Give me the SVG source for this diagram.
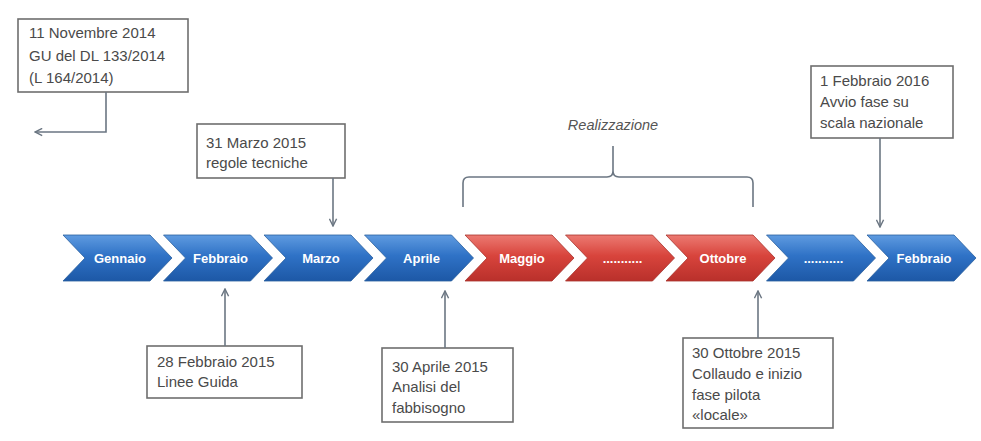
<svg xmlns="http://www.w3.org/2000/svg" width="981" height="441" viewBox="0 0 981 441">
<defs>
<linearGradient id="gb" x1="0" y1="0" x2="0" y2="1">
<stop offset="0" stop-color="#5f9be0"/><stop offset="0.45" stop-color="#2f72c6"/><stop offset="1" stop-color="#1d58a6"/>
</linearGradient>
<linearGradient id="gr" x1="0" y1="0" x2="0" y2="1">
<stop offset="0" stop-color="#ec7a72"/><stop offset="0.45" stop-color="#d8443c"/><stop offset="1" stop-color="#b9302b"/>
</linearGradient>
<marker id="ah" viewBox="0 0 10 10" refX="9" refY="5" markerWidth="9" markerHeight="9" markerUnits="userSpaceOnUse" orient="auto">
<path d="M1,1 L9,5 L1,9" fill="none" stroke="#6b7682" stroke-width="1.6"/>
</marker>
<path id="chev" d="M0,235 H87 L109,258 L87,281 H0 L22,258 Z"/>
</defs>
<style>
.box{fill:#fff;stroke:#6e6e6e;stroke-width:1.6}
.t{font-family:"Liberation Sans",Arial,sans-serif;font-size:15px;fill:#4a4a4a}
.m{font-family:"Liberation Sans",Arial,sans-serif;font-size:13px;font-weight:bold;fill:#fff;text-anchor:middle}
.c{fill:none;stroke:#6b7682;stroke-width:1.6}
.blue{fill:url(#gb);stroke:#2a5f9e;stroke-width:0.8}
.red{fill:url(#gr);stroke:#a8322c;stroke-width:0.8}
</style>
<rect width="981" height="441" fill="#fff"/>

<g id="timeline">
<g id="m-gennaio"><use href="#chev" x="63" class="blue"/><text class="m" x="120" y="263">Gennaio</text></g>
<g id="m-febbraio"><use href="#chev" x="163.5" class="blue"/><text class="m" x="220.5" y="263">Febbraio</text></g>
<g id="m-marzo"><use href="#chev" x="264" class="blue"/><text class="m" x="321" y="263">Marzo</text></g>
<g id="m-aprile"><use href="#chev" x="364.5" class="blue"/><text class="m" x="421.5" y="263">Aprile</text></g>
<g id="m-maggio"><use href="#chev" x="465" class="red"/><text class="m" x="522" y="263">Maggio</text></g>
<g id="m-dots1"><use href="#chev" x="565.5" class="red"/><text class="m" x="622.5" y="263">...........</text></g>
<g id="m-ottobre"><use href="#chev" x="666" class="red"/><text class="m" x="723" y="263">Ottobre</text></g>
<g id="m-dots2"><use href="#chev" x="766.5" class="blue"/><text class="m" x="823.5" y="263">...........</text></g>
<g id="m-febbraio2"><use href="#chev" x="867" class="blue"/><text class="m" x="924" y="263">Febbraio</text></g>
</g>

<g id="n-nov2014">
<rect class="box" x="18" y="19" width="170" height="73"/>
<text class="t" x="29" y="38">11 Novembre 2014</text>
<text class="t" x="29" y="61">GU del DL 133/2014</text>
<text class="t" x="29" y="83">(L 164/2014)</text>
</g>

<g id="n-mar2015">
<rect class="box" x="197" y="124" width="148" height="54"/>
<text class="t" x="206" y="148">31 Marzo 2015</text>
<text class="t" x="206" y="168">regole tecniche</text>
</g>

<g id="n-realizzazione">
<text x="613" y="130" text-anchor="middle" style="font-family:'Liberation Sans',Arial,sans-serif;font-size:14.5px;font-style:italic;fill:#555">Realizzazione</text>
<path class="c" d="M463,207 V183 Q463,177 469,177 H607 Q613,177 613,171 V146 M613,171 Q613,177 619,177 H747 Q753,177 753,183 V207"/>
</g>

<g id="n-feb2016">
<rect class="box" x="811" y="66" width="142" height="72"/>
<text class="t" x="820" y="86">1 Febbraio 2016</text>
<text class="t" x="820" y="107">Avvio fase su</text>
<text class="t" x="820" y="128">scala nazionale</text>
</g>

<g id="n-feb2015">
<rect class="box" x="147" y="346" width="155" height="52"/>
<text class="t" x="157" y="367">28 Febbraio 2015</text>
<text class="t" x="157" y="387">Linee Guida</text>
</g>

<g id="n-apr2015">
<rect class="box" x="382" y="348" width="131" height="74"/>
<text class="t" x="392" y="372">30 Aprile 2015</text>
<text class="t" x="392" y="392">Analisi del</text>
<text class="t" x="392" y="413">fabbisogno</text>
</g>

<g id="n-ott2015">
<rect class="box" x="683" y="338" width="150" height="90"/>
<text class="t" x="692" y="358">30 Ottobre 2015</text>
<text class="t" x="692" y="379">Collaudo e inizio</text>
<text class="t" x="692" y="400">fase pilota</text>
<text class="t" x="692" y="420">«locale»</text>
</g>

<g id="connectors">
<path class="c" d="M106,92 V132 H35" marker-end="url(#ah)"/>
<path class="c" d="M333,178 V226" marker-end="url(#ah)"/>
<path class="c" d="M880,138 V227" marker-end="url(#ah)"/>
<path class="c" d="M225,346 V289" marker-end="url(#ah)"/>
<path class="c" d="M445,348 V291" marker-end="url(#ah)"/>
<path class="c" d="M758,338 V291" marker-end="url(#ah)"/>
</g>
</svg>
